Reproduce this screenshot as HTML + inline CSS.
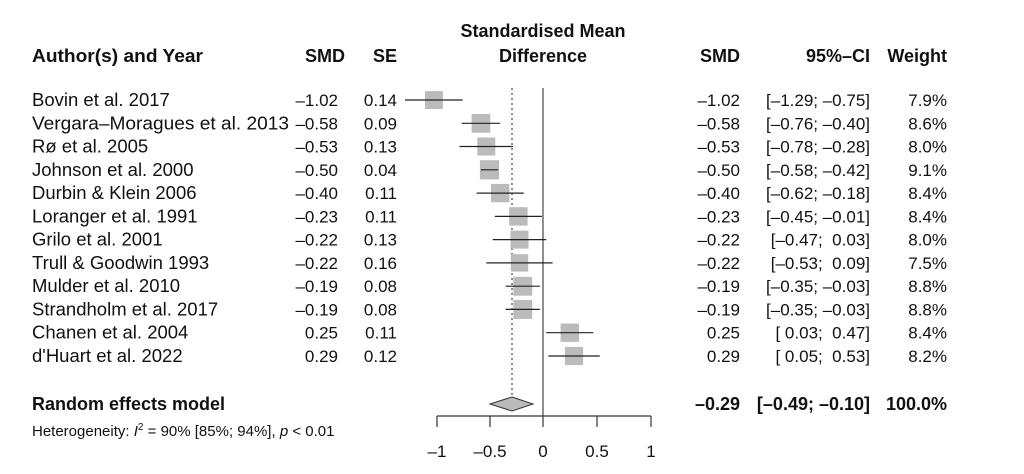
<!DOCTYPE html>
<html><head><meta charset="utf-8"><style>
body{margin:0;background:#fff;}
svg text{font-family:"Liberation Sans",Arial,sans-serif;font-size:17px;fill:#111;white-space:pre;}
.b{font-weight:bold;}
.n{font-size:18.5px;}
.h{font-size:18px;font-weight:bold;}
</style></head><body>
<svg width="1024" height="469" viewBox="0 0 1024 469" xmlns="http://www.w3.org/2000/svg" xml:space="preserve">
<text class="h" x="32" y="62" textLength="171" lengthAdjust="spacingAndGlyphs">Author(s) and Year</text>
<text class="h" x="345" y="62" text-anchor="end">SMD</text>
<text class="h" x="397" y="62" text-anchor="end">SE</text>
<text class="h" x="543" y="37" text-anchor="middle">Standardised Mean</text>
<text class="h" x="543" y="62" text-anchor="middle">Difference</text>
<text class="h" x="740" y="62" text-anchor="end">SMD</text>
<text class="h" x="870" y="62" text-anchor="end">95%–CI</text>
<text class="h" x="947" y="62" text-anchor="end">Weight</text>
<line x1="543" y1="88" x2="543" y2="416" stroke="#555" stroke-width="1.3"/>
<line x1="512" y1="88" x2="512" y2="404" stroke="#444" stroke-width="1.2" stroke-dasharray="2,3"/>

<g fill="#bbb">
<rect x="425.0" y="91.1" width="17.9" height="17.9"/>
<rect x="471.6" y="114.0" width="18.7" height="18.7"/>
<rect x="477.3" y="137.5" width="18" height="18"/>
<rect x="479.9" y="160.2" width="19.2" height="19.2"/>
<rect x="491.0" y="183.9" width="18.4" height="18.4"/>
<rect x="509.2" y="207.2" width="18.4" height="18.4"/>
<rect x="510.5" y="230.6" width="18" height="18"/>
<rect x="510.8" y="254.2" width="17.4" height="17.4"/>
<rect x="513.3" y="276.8" width="18.9" height="18.9"/>
<rect x="513.3" y="300.0" width="18.9" height="18.9"/>
<rect x="560.6" y="323.5" width="18.4" height="18.4"/>
<rect x="564.9" y="346.9" width="18.2" height="18.2"/>
</g>
<g stroke="#222" stroke-width="1.2">
<line x1="405.0" y1="100" x2="462.7" y2="100"/>
<line x1="461.7" y1="123.3" x2="500.2" y2="123.3"/>
<line x1="459.5" y1="146.5" x2="513.0" y2="146.5"/>
<line x1="480.9" y1="169.8" x2="498.1" y2="169.8"/>
<line x1="476.7" y1="193.1" x2="523.7" y2="193.1"/>
<line x1="494.9" y1="216.4" x2="541.9" y2="216.4"/>
<line x1="492.7" y1="239.6" x2="546.2" y2="239.6"/>
<line x1="486.3" y1="262.9" x2="552.6" y2="262.9"/>
<line x1="505.6" y1="286.2" x2="539.8" y2="286.2"/>
<line x1="505.6" y1="309.4" x2="539.8" y2="309.4"/>
<line x1="546.2" y1="332.7" x2="593.3" y2="332.7"/>
<line x1="548.4" y1="356.0" x2="599.7" y2="356.0"/>
</g>

<g class="n">
<text class="n" x="32" y="106">Bovin et al. 2017</text>
<text class="n" x="32" y="129.3" textLength="257" lengthAdjust="spacingAndGlyphs">Vergara–Moragues et al. 2013</text>
<text class="n" x="32" y="152.5">Rø et al. 2005</text>
<text class="n" x="32" y="175.8">Johnson et al. 2000</text>
<text class="n" x="32" y="199.1">Durbin &amp; Klein 2006</text>
<text class="n" x="32" y="222.4">Loranger et al. 1991</text>
<text class="n" x="32" y="245.6">Grilo et al. 2001</text>
<text class="n" x="32" y="268.9">Trull &amp; Goodwin 1993</text>
<text class="n" x="32" y="292.2">Mulder et al. 2010</text>
<text class="n" x="32" y="315.4">Strandholm et al. 2017</text>
<text class="n" x="32" y="338.7">Chanen et al. 2004</text>
<text class="n" x="32" y="362.0">d'Huart et al. 2022</text>
</g>
<g text-anchor="end">
<text x="338" y="106">–1.02</text><text x="397" y="106">0.14</text>
<text x="338" y="129.3">–0.58</text><text x="397" y="129.3">0.09</text>
<text x="338" y="152.5">–0.53</text><text x="397" y="152.5">0.13</text>
<text x="338" y="175.8">–0.50</text><text x="397" y="175.8">0.04</text>
<text x="338" y="199.1">–0.40</text><text x="397" y="199.1">0.11</text>
<text x="338" y="222.4">–0.23</text><text x="397" y="222.4">0.11</text>
<text x="338" y="245.6">–0.22</text><text x="397" y="245.6">0.13</text>
<text x="338" y="268.9">–0.22</text><text x="397" y="268.9">0.16</text>
<text x="338" y="292.2">–0.19</text><text x="397" y="292.2">0.08</text>
<text x="338" y="315.4">–0.19</text><text x="397" y="315.4">0.08</text>
<text x="338" y="338.7">0.25</text><text x="397" y="338.7">0.11</text>
<text x="338" y="362.0">0.29</text><text x="397" y="362.0">0.12</text>
</g>
<g text-anchor="end" style="font-size:18px">
<text x="740" y="106">–1.02</text><text x="870" y="106">[–1.29; –0.75]</text><text x="947" y="106">7.9%</text>
<text x="740" y="129.3">–0.58</text><text x="870" y="129.3">[–0.76; –0.40]</text><text x="947" y="129.3">8.6%</text>
<text x="740" y="152.5">–0.53</text><text x="870" y="152.5">[–0.78; –0.28]</text><text x="947" y="152.5">8.0%</text>
<text x="740" y="175.8">–0.50</text><text x="870" y="175.8">[–0.58; –0.42]</text><text x="947" y="175.8">9.1%</text>
<text x="740" y="199.1">–0.40</text><text x="870" y="199.1">[–0.62; –0.18]</text><text x="947" y="199.1">8.4%</text>
<text x="740" y="222.4">–0.23</text><text x="870" y="222.4">[–0.45; –0.01]</text><text x="947" y="222.4">8.4%</text>
<text x="740" y="245.6">–0.22</text><text x="870" y="245.6">[–0.47;  0.03]</text><text x="947" y="245.6">8.0%</text>
<text x="740" y="268.9">–0.22</text><text x="870" y="268.9">[–0.53;  0.09]</text><text x="947" y="268.9">7.5%</text>
<text x="740" y="292.2">–0.19</text><text x="870" y="292.2">[–0.35; –0.03]</text><text x="947" y="292.2">8.8%</text>
<text x="740" y="315.4">–0.19</text><text x="870" y="315.4">[–0.35; –0.03]</text><text x="947" y="315.4">8.8%</text>
<text x="740" y="338.7">0.25</text><text x="870" y="338.7">[ 0.03;  0.47]</text><text x="947" y="338.7">8.4%</text>
<text x="740" y="362.0">0.29</text><text x="870" y="362.0">[ 0.05;  0.53]</text><text x="947" y="362.0">8.2%</text>
</g>

<polygon points="490,404 512,397 533,404 512,411" fill="#bbb" stroke="#333" stroke-width="1"/>
<text class="h" x="32" y="410">Random effects model</text>
<text class="h" x="740" y="410" text-anchor="end">–0.29</text>
<text class="h" x="870" y="410" text-anchor="end">[–0.49; –0.10]</text>
<text class="h" x="947" y="410" text-anchor="end">100.0%</text>
<text x="32" y="436" style="font-size:15px">Heterogeneity: <tspan font-style="italic">I</tspan><tspan dy="-6" style="font-size:10px">2</tspan><tspan dy="6"> = 90% [85%; 94%], </tspan><tspan font-style="italic">p</tspan> &lt; 0.01</text>
<line x1="437" y1="416" x2="651" y2="416" stroke="#333" stroke-width="1.2"/>
<g stroke="#333" stroke-width="1.2">
<line x1="437" y1="416" x2="437" y2="427"/><line x1="490" y1="416" x2="490" y2="427"/><line x1="543" y1="416" x2="543" y2="427"/><line x1="597" y1="416" x2="597" y2="427"/><line x1="651" y1="416" x2="651" y2="427"/>
</g>
<g text-anchor="middle" style="font-size:18px">
<text x="437" y="457">–1</text><text x="490" y="457">–0.5</text><text x="543" y="457">0</text><text x="597" y="457">0.5</text><text x="651" y="457">1</text>
</g>
</svg>
</body></html>
